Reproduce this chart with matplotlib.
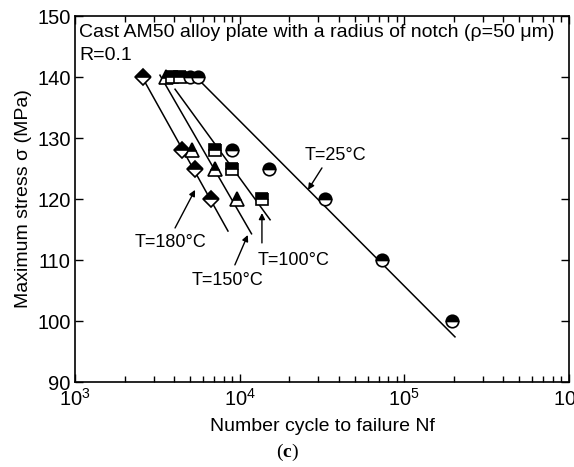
import matplotlib.pyplot as plt
from matplotlib.ticker import LogLocator, NullLocator

plt.rcParams['font.family'] = ['Liberation Sans', 'DejaVu Sans']
plt.rcParams['mathtext.fontset'] = 'custom'
plt.rcParams['mathtext.rm'] = 'Liberation Sans'
plt.rcParams['mathtext.bf'] = 'Liberation Serif:bold'

# measured points: cycles to failure and max stress for each temperature
n_180 = [2590, 4450, 5360, 6670]
s_180 = [140, 128, 125, 120]

n_150 = [3570, 5120, 7080, 9590]
s_150 = [140, 128, 125, 120]

n_100 = [3880, 4350, 7080, 8930, 13600]
s_100 = [140, 140, 128, 125, 120]

n_25 = [4990, 5580, 8930, 15100, 33000, 73100, 195000]
s_25 = [140, 140, 128, 125, 120, 110, 100]

# end points of the fitted S-N lines
fit_n_180 = [2520, 8490]
fit_s_180 = [140.3, 114.75]
fit_n_150 = [3280, 11800]
fit_s_150 = [140.3, 114.3]
fit_n_100 = [4050, 15300]
fit_s_100 = [138.0, 116.6]
fit_n_25 = [5430, 203000]
fit_s_25 = [140.0, 97.4]

fig = plt.figure(figsize=(5.74, 4.67), dpi=100)
ax = fig.add_axes([0.1307, 0.182, 0.8606, 0.7837])

lw = 1.1
for fn, fs in [(fit_n_180, fit_s_180), (fit_n_150, fit_s_150),
               (fit_n_100, fit_s_100), (fit_n_25, fit_s_25)]:
    ax.plot(fn, fs, '-', color='black', lw=lw, zorder=2)

mk = dict(ls='none', color='black', markerfacecoloralt='white',
          fillstyle='top', markeredgecolor='black', markeredgewidth=1.2,
          zorder=3)
ax.plot(n_180, s_180, marker='D', ms=8, **mk)
ax.plot(n_150, s_150, marker='^', ms=9.5, **mk)
ax.plot(n_100, s_100, marker='s', ms=8.5, **mk)
ax.plot(n_25, s_25, marker='o', ms=9, **mk)

ax.set_xscale('log')
ax.set_xlim(1e3, 1e6)
ax.set_ylim(90, 150)
ax.set_yticks([90, 100, 110, 120, 130, 140, 150])
ax.yaxis.set_minor_locator(NullLocator())
ax.xaxis.set_minor_locator(LogLocator(base=10, subs=range(2, 10)))

ax.tick_params(which='both', direction='in', top=True, right=True,
               labelsize=14.5, width=1)
ax.tick_params(which='major', length=6)
ax.tick_params(which='minor', length=4)
ax.tick_params(axis='x', pad=4)
ax.tick_params(axis='y', pad=3)
for sp in ax.spines.values():
    sp.set_linewidth(1.2)

ax.set_xlabel('Number cycle to failure Nf', fontsize=14, labelpad=6)
ax.set_ylabel('Maximum stress σ (MPa)', fontsize=14, labelpad=4)

ax.text(1.06e3, 147.3, 'Cast AM50 alloy plate with a radius of notch (ρ=50 μm)',
        fontsize=14, va='center', ha='left')
ax.text(1.06e3, 143.6, 'R=0.1', fontsize=14, va='center', ha='left')

arrow = dict(arrowstyle='-|>', color='black', lw=1, mutation_scale=9,
             shrinkA=0, shrinkB=0)
ax.annotate('', xy=(26000, 121.5), xytext=(31600, 125.1), arrowprops=arrow)
ax.text(37900, 127.2, 'T=25°C', fontsize=13, ha='center', va='center')

ax.annotate('', xy=(5360, 121.5), xytext=(4050, 115.25), arrowprops=arrow)
ax.text(3780, 112.9, 'T=180°C', fontsize=13, ha='center', va='center')

ax.annotate('', xy=(11200, 114.1), xytext=(9350, 109.2), arrowprops=arrow)
ax.text(8490, 106.7, 'T=150°C', fontsize=13, ha='center', va='center')

ax.annotate('', xy=(13650, 117.7), xytext=(13650, 112.8), arrowprops=arrow)
ax.text(21100, 110.0, 'T=100°C', fontsize=13, ha='center', va='center')

fig.text(0.5, 0.032, r'($\mathbf{c}$)', fontsize=14, ha='center', va='center',
         family='Liberation Serif')

fig.savefig('out.png', dpi=100)
